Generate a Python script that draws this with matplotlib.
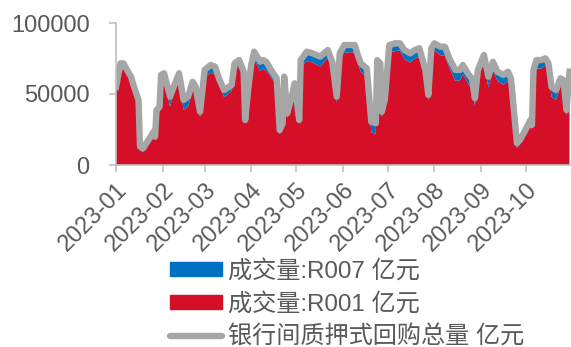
import pandas as pd
import matplotlib
matplotlib.use('Agg')
import matplotlib.pyplot as plt
import matplotlib.dates as mdates
from matplotlib.patches import Patch
from matplotlib.lines import Line2D

plt.rcParams['font.family'] = ['Liberation Sans', 'Noto Sans CJK SC', 'DejaVu Sans']
plt.rcParams['axes.unicode_minus'] = False

dates = [
    '2023-01-01', '2023-01-04', '2023-01-06', '2023-01-09', '2023-01-11', '2023-01-13', '2023-01-16', '2023-01-17',
    '2023-01-19', '2023-01-24', '2023-01-26', '2023-01-27', '2023-01-28', '2023-01-30', '2023-01-31',
    '2023-02-02', '2023-02-06', '2023-02-08', '2023-02-12', '2023-02-15', '2023-02-18', '2023-02-21', '2023-02-23',
    '2023-02-26',
    '2023-03-01', '2023-03-05', '2023-03-08', '2023-03-11', '2023-03-14', '2023-03-19', '2023-03-21', '2023-03-24',
    '2023-03-27', '2023-03-28', '2023-03-30',
    '2023-04-01', '2023-04-03', '2023-04-07', '2023-04-09', '2023-04-11', '2023-04-13', '2023-04-15', '2023-04-18',
    '2023-04-20', '2023-04-22', '2023-04-23', '2023-04-25', '2023-04-28', '2023-04-30',
    '2023-05-03', '2023-05-04', '2023-05-08', '2023-05-12', '2023-05-17', '2023-05-22', '2023-05-25', '2023-05-28',
    '2023-05-30',
    '2023-06-02', '2023-06-06', '2023-06-09', '2023-06-11', '2023-06-13', '2023-06-17', '2023-06-20', '2023-06-23',
    '2023-06-24', '2023-06-26', '2023-06-27', '2023-06-29',
    '2023-07-02', '2023-07-06', '2023-07-09', '2023-07-12', '2023-07-16', '2023-07-19', '2023-07-22', '2023-07-26',
    '2023-07-28', '2023-07-30',
    '2023-08-01', '2023-08-05', '2023-08-08', '2023-08-11', '2023-08-15', '2023-08-18', '2023-08-20', '2023-08-24',
    '2023-08-26', '2023-08-28', '2023-08-30',
    '2023-09-03', '2023-09-06', '2023-09-09', '2023-09-12', '2023-09-16', '2023-09-19', '2023-09-21', '2023-09-25',
    '2023-09-27', '2023-09-30',
    '2023-10-04', '2023-10-05', '2023-10-06', '2023-10-08', '2023-10-11', '2023-10-14', '2023-10-16', '2023-10-18',
    '2023-10-21', '2023-10-24', '2023-10-26', '2023-10-28', '2023-10-30',
]

# 银行间质押式回购总量 亿元
total = [
    55000, 71600, 71600, 65700, 62200, 55100, 45800, 12900, 11700, 19900, 23400, 19900, 38700, 41000, 63400,
    64600, 48100, 54000, 64600, 45800, 48100, 58600, 55100, 37500,
    66900, 70400, 69200, 59800, 52800, 56300, 71600, 73900, 65700, 31700, 52800,
    70400, 79800, 72700, 73900, 72700, 69200, 65700, 61000, 24600, 29400, 62200, 36400, 48100, 57500,
    31700, 73900, 79800, 78600, 76300, 81000, 72700, 48100, 78600,
    84500, 84500, 84500, 77500, 71600, 68100, 30500, 29400, 73900, 71600, 37500, 45800,
    84500, 85700, 85700, 81000, 78600, 81000, 82200, 66900, 49300, 82200,
    85700, 83300, 83300, 75100, 66900, 66900, 70400, 63400, 61000, 47000, 66900,
    77500, 62200, 72700, 65700, 63400, 65700, 61000, 15300, 17600, 23400,
    31700, 28200, 66900, 73900, 73900, 75100, 71600, 55100, 52800, 61000, 59800, 38700, 65700,
]

# 成交量:R001 亿元
r001 = [
    51000, 67100, 67600, 61700, 58200, 51600, 42300, 10400, 9200, 17400, 20900, 17400, 35200, 37500, 58900,
    59600, 41100, 48500, 59600, 38800, 41100, 53100, 49600, 33500,
    61900, 64900, 63700, 55300, 47800, 51800, 66600, 69400, 61200, 28700, 48800,
    65900, 74300, 66200, 67900, 66700, 63700, 60700, 56000, 21600, 24900, 56700, 32900, 44100, 53000,
    28700, 68900, 73300, 72100, 69300, 75500, 66700, 44100, 73600,
    79000, 79500, 79000, 72000, 65600, 61600, 23000, 21900, 68900, 66600, 33500, 41300,
    79500, 80200, 80700, 74500, 72100, 75000, 76200, 61900, 45300, 77200,
    80700, 77300, 76800, 68600, 59400, 59400, 63900, 56400, 54000, 42000, 60900,
    71500, 54700, 66700, 59200, 56400, 59200, 55000, 11800, 14600, 20400,
    28200, 24700, 61900, 67900, 67900, 70100, 66100, 48100, 45800, 55000, 53800, 34700, 60700,
]

# 成交量:R007 亿元
r007 = [
    3000, 3500, 3000, 3000, 3000, 2500, 2500, 1500, 1500, 1500, 1500, 1500, 2500, 2500, 3500,
    4000, 6000, 4500, 4000, 6000, 6000, 4500, 4500, 3000,
    4000, 4500, 4500, 3500, 4000, 3500, 4000, 3500, 3500, 2000, 3000,
    3500, 4500, 5500, 5000, 5000, 4500, 4000, 4000, 2000, 3500, 4500, 2500, 3000, 3500,
    2000, 4000, 5500, 5500, 6000, 4500, 5000, 3000, 4000,
    4500, 4000, 4500, 4500, 5000, 5500, 6500, 6500, 4000, 4000, 3000, 3500,
    4000, 4500, 4000, 5500, 5500, 5000, 5000, 4000, 3000, 4000,
    4000, 5000, 5500, 5500, 6500, 6500, 5500, 6000, 6000, 4000, 5000,
    5000, 6500, 5000, 5500, 6000, 5500, 5000, 2500, 2000, 2000,
    2500, 2500, 4000, 5000, 5000, 4000, 4500, 6000, 6000, 5000, 5000, 3000, 4000,
]

labels = ['成交量:R007 亿元', '成交量:R001 亿元', '银行间质押式回购总量 亿元']

red = '#D50F28'
blue = '#0070C0'
gray = '#A6A6A6'
txt = '#595959'

x = pd.to_datetime(dates)

fig = plt.figure(figsize=(5.71, 3.47), dpi=100)
ax = fig.add_axes([116 / 571, 1 - 165 / 347, 1 - 116 / 571, (165 - 23) / 347])

ax.stackplot(x, r001, r007, colors=[red, blue], linewidth=0)
ax.plot(x, total, color=gray, linewidth=4.6, solid_joinstyle='round')

ax.set_xlim(pd.Timestamp('2023-01-01'), pd.Timestamp('2023-10-31'))
ax.set_ylim(0, 100000)
ax.set_yticks([0, 50000, 100000])
ax.xaxis.set_major_locator(mdates.MonthLocator())
ax.xaxis.set_major_formatter(mdates.DateFormatter('%Y-%m'))

for s in ['top', 'right']:
    ax.spines[s].set_visible(False)
for s in ['left', 'bottom']:
    ax.spines[s].set_color('#BFBFBF')
    ax.spines[s].set_linewidth(1.2)
ax.tick_params(axis='y', colors='#BFBFBF', labelcolor=txt, labelsize=17, length=5, width=1.2, pad=14)
ax.tick_params(axis='x', colors='#BFBFBF', labelcolor=txt, labelsize=17, length=5, width=1.2, pad=5)
for lab in ax.get_xticklabels():
    lab.set_rotation(45)
    lab.set_ha('right')
    lab.set_rotation_mode('anchor')

handles = [Patch(color=blue), Patch(color=red), Line2D([], [], color=gray, linewidth=4.6, solid_capstyle='round')]
leg = fig.legend(handles, labels, loc='upper left', bbox_to_anchor=(170 / 571, 1 - 260 / 347),
                 frameon=False, fontsize=17.4, handlelength=2.15, handleheight=0.5, labelspacing=0.4,
                 handletextpad=0.25, borderaxespad=0, borderpad=0)
for t in leg.get_texts():
    t.set_color(txt)

plt.savefig('out.png', dpi=100)
